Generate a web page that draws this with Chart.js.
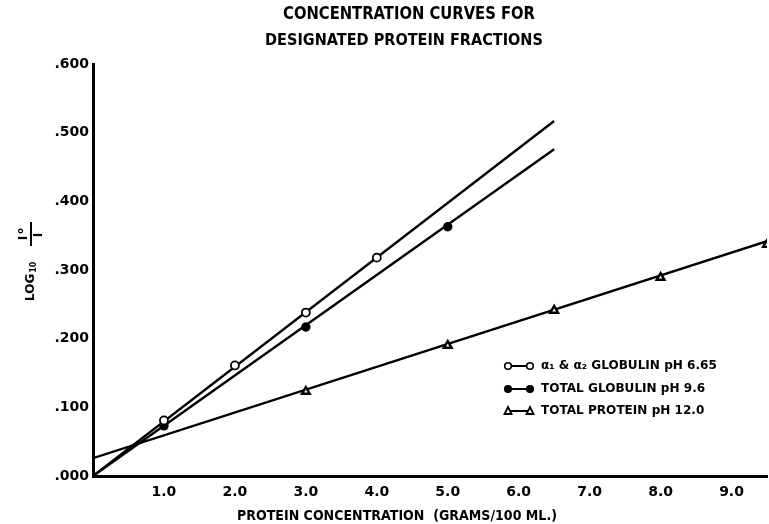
<!DOCTYPE html>
<html>
<head>
<meta charset="utf-8">
<script src="https://cdn.jsdelivr.net/npm/chart.js@4.4.0/dist/chart.umd.min.js"></script>
<style>
html,body{margin:0;padding:0;background:#fff;}
#wrap{position:relative;width:769px;height:524px;}
</style>
</head>
<body>
<div id="wrap"><canvas id="c" width="769" height="524"></canvas></div>
<script>
// ---- data ----
const titleLines = ['CONCENTRATION CURVES FOR', 'DESIGNATED PROTEIN FRACTIONS'];
const xAxisTitle = 'PROTEIN CONCENTRATION  (GRAMS/100 ML.)';
const xTickLabels = ['', '1.0', '2.0', '3.0', '4.0', '5.0', '6.0', '7.0', '8.0', '9.0'];
const yTickLabels = ['.000', '.100', '.200', '.300', '.400', '.500', '.600'];

const seriesNames = ['\u03B1\u2081 & \u03B1\u2082 GLOBULIN pH 6.65', 'TOTAL GLOBULIN pH 9.6', 'TOTAL PROTEIN pH 12.0'];

const alphaX = [1, 2, 3, 4];
const alphaY = [0.081, 0.161, 0.238, 0.318];
const totGlobX = [1, 3, 5];
const totGlobY = [0.073, 0.217, 0.363];
const totProtX = [3, 5, 6.5, 8, 9.5];
const totProtY = [0.123, 0.190, 0.241, 0.289, 0.337];

// fitted straight lines (end points)
const alphaFitX = [0, 6.5];
const alphaFitY = [0, 0.517];
const totGlobFitX = [0, 6.5];
const totGlobFitY = [0, 0.476];
const totProtFitX = [0, 9.5];
const totProtFitY = [0.026, 0.342];

const pts = (xs, ys) => xs.map((x, i) => ({x, y: ys[i]}));
const FONT = '"DejaVu Sans", "Liberation Sans", sans-serif';

const lineDs = (xs, ys) => ({
  type: 'line', data: pts(xs, ys), borderColor: '#000', borderWidth: 2.4,
  pointRadius: 0, fill: false, tension: 0, order: 2
});

// draw text at a given width (size fitted to the width), slightly taller lettering
function fitText(ctx, text, x, y, width, align, vscale) {
  ctx.save();
  ctx.font = 'bold 20px ' + FONT;
  const m = ctx.measureText(text).width;
  const size = 20 * width / m;
  ctx.font = 'bold ' + size.toFixed(2) + 'px ' + FONT;
  ctx.textAlign = align;
  ctx.translate(x, y);
  ctx.scale(1, vscale || 1);
  ctx.fillText(text, 0, 0);
  ctx.restore();
  return size;
}

const annot = {
  id: 'annot',
  afterDraw(chart) {
    const ctx = chart.ctx;
    ctx.save();
    ctx.fillStyle = '#000';
    ctx.textBaseline = 'middle';
    fitText(ctx, titleLines[0], 409, 15, 252, 'center', 1.15);
    fitText(ctx, titleLines[1], 404, 41, 278, 'center', 1.15);
    fitText(ctx, xAxisTitle, 397, 516, 320, 'center', 1.1);

    // y axis title: LOG10 Io / I, rotated
    ctx.translate(31, 301);
    ctx.rotate(-Math.PI / 2);
    ctx.textAlign = 'left';
    ctx.font = 'bold 12px ' + FONT;
    ctx.fillText('LOG', 0, 0);
    const w = ctx.measureText('LOG').width;
    ctx.font = 'bold 8px ' + FONT;
    ctx.fillText('10', w + 1, 3);
    // fraction
    ctx.font = 'bold 12px ' + FONT;
    ctx.textAlign = 'center';
    ctx.fillText('I', 63, -7);
    ctx.font = 'bold 8px ' + FONT;
    ctx.fillText('o', 70, -10);
    ctx.font = 'bold 12px ' + FONT;
    ctx.fillText('I', 66, 8);
    ctx.fillRect(55, -1, 24, 2);
    ctx.restore();

    // legend
    ctx.save();
    const rows = [366, 389, 411];
    const styles = ['open', 'filled', 'tri'];
    ctx.textBaseline = 'middle';
    ctx.fillStyle = '#000';
    ctx.font = 'bold 20px ' + FONT;
    const lsize = 20 * 176 / ctx.measureText(seriesNames[0]).width;
    rows.forEach((ry, i) => {
      ctx.strokeStyle = '#000';
      ctx.lineWidth = 2;
      ctx.beginPath();
      ctx.moveTo(508, ry); ctx.lineTo(530, ry); ctx.stroke();
      [508, 530].forEach(mx => {
        ctx.beginPath();
        if (styles[i] === 'tri') {
          ctx.moveTo(mx, ry - 4); ctx.lineTo(mx + 3.5, ry + 3); ctx.lineTo(mx - 3.5, ry + 3); ctx.closePath();
          ctx.fillStyle = '#fff'; ctx.fill(); ctx.lineWidth = 1.8; ctx.stroke();
        } else {
          ctx.arc(mx, ry, 3.3, 0, Math.PI * 2);
          ctx.fillStyle = styles[i] === 'open' ? '#fff' : '#000';
          ctx.fill(); ctx.lineWidth = 1.6; ctx.stroke();
        }
      });
      ctx.fillStyle = '#000';
      ctx.font = 'bold ' + lsize.toFixed(2) + 'px ' + FONT;
      ctx.textAlign = 'left';
      ctx.fillText(seriesNames[i], 541, ry);
    });
    ctx.restore();
  }
};

new Chart(document.getElementById('c'), {
  type: 'scatter',
  data: {
    datasets: [
      lineDs(alphaFitX, alphaFitY),
      lineDs(totGlobFitX, totGlobFitY),
      lineDs(totProtFitX, totProtFitY),
      { label: seriesNames[0], data: pts(alphaX, alphaY), pointStyle: 'circle', pointRadius: 4,
        backgroundColor: '#fff', borderColor: '#000', borderWidth: 1.8, order: 1 },
      { label: seriesNames[1], data: pts(totGlobX, totGlobY), pointStyle: 'circle', pointRadius: 4,
        backgroundColor: '#000', borderColor: '#000', borderWidth: 1.5, order: 1 },
      { label: seriesNames[2], data: pts(totProtX, totProtY), pointStyle: 'triangle', pointRadius: 4.5,
        backgroundColor: '#fff', borderColor: '#000', borderWidth: 2.4, order: 1 }
    ]
  },
  options: {
    responsive: false,
    animation: false,
    layout: { autoPadding: false, padding: { top: 64, right: 2, left: 0, bottom: 0 } },
    plugins: { legend: { display: false }, tooltip: { enabled: false }, title: { display: false } },
    scales: {
      x: {
        type: 'linear', min: 0, max: 9.5,
        afterFit(s) { s.height = 48; },
        afterBuildTicks(s) { s.ticks = xTickLabels.map((_, i) => ({ value: i })); },
        grid: { display: false, drawTicks: false },
        border: { display: true, color: '#000', width: 3 },
        ticks: {
          color: '#000', font: { family: FONT, size: 14, weight: 'bold' }, padding: 8,
          maxRotation: 0, autoSkip: false,
          callback: (v) => xTickLabels[Math.round(v)] ?? ''
        }
      },
      y: {
        type: 'linear', min: 0, max: 0.6,
        afterFit(s) { s.width = 93; },
        afterBuildTicks(s) { s.ticks = yTickLabels.map((_, i) => ({ value: i / 10 })); },
        grid: { display: false, drawTicks: false },
        border: { display: true, color: '#000', width: 3 },
        ticks: {
          color: '#000', font: { family: FONT, size: 14, weight: 'bold' }, padding: 4,
          autoSkip: false,
          callback: (v) => yTickLabels[Math.round(v * 10)] ?? ''
        }
      }
    }
  },
  plugins: [annot]
});
</script>
</body>
</html>
